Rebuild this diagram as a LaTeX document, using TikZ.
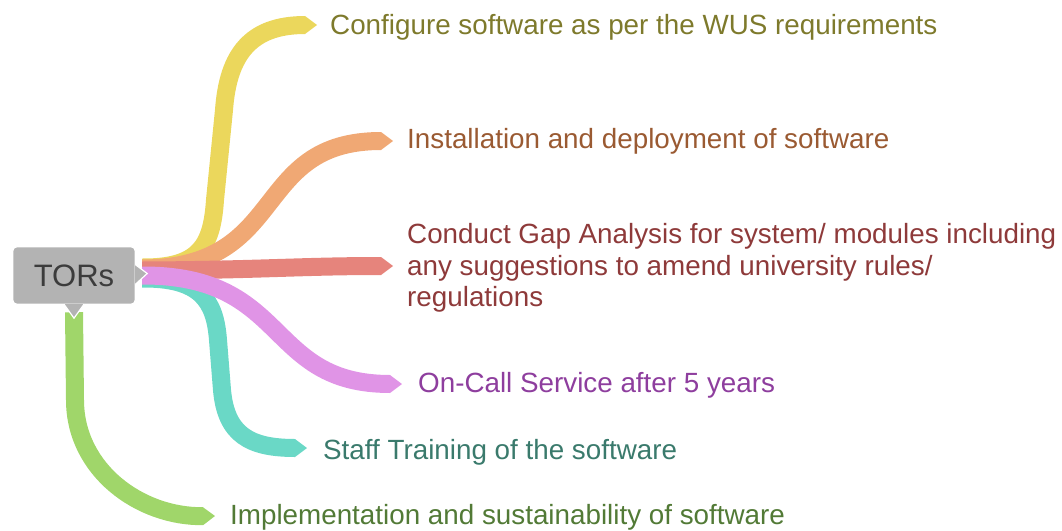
\documentclass[tikz,border=0pt]{standalone}
\usepackage{fontspec}
\setmainfont{Liberation Sans}
\usetikzlibrary{arrows.meta}

\definecolor{boxgray}{RGB}{179,179,179}
\definecolor{boxtext}{RGB}{60,60,60}
\definecolor{yellowrib}{RGB}{235,215,92}
\definecolor{orangerib}{RGB}{240,168,116}
\definecolor{redrib}{RGB}{230,132,124}
\definecolor{pinkrib}{RGB}{224,148,230}
\definecolor{tealrib}{RGB}{106,216,198}
\definecolor{greenrib}{RGB}{160,214,106}
\definecolor{cfgtext}{RGB}{126,122,44}
\definecolor{insttext}{RGB}{154,90,50}
\definecolor{gaptext}{RGB}{142,58,58}
\definecolor{calltext}{RGB}{142,62,158}
\definecolor{stafftext}{RGB}{58,122,108}
\definecolor{impltext}{RGB}{82,122,54}

\begin{document}
\begin{tikzpicture}[x=1pt,y=-1pt,
  ribbon/.style={line width=18pt,draw=#1,
    -{Triangle[length=12pt,width=18pt,line width=0pt]}},
  label/.style={inner sep=0pt,text=#1,font=\fontsize{27.8}{31.5}\selectfont}]
  \useasboundingbox (0,0) rectangle (1062,530);
  % the TORs box
  \node[minimum width=122pt,minimum height=57pt,inner sep=0pt] (tors) at (74,275.5) {};
  % branch labels
  \node[label=cfgtext,anchor=base west] (cfg) at (330,34)
    {Configure software as per the WUS requirements};
  \node[label=insttext,anchor=base west] (inst) at (407,148)
    {Installation and deployment of software};
  \node[label=gaptext,anchor=west,align=left] (gap) at (407,268)
    {Conduct Gap Analysis for system/ modules including\\
     any suggestions to amend university rules/\\
     regulations};
  \node[label=calltext,anchor=base west] (call) at (418,392)
    {On-Call Service after 5 years};
  \node[label=stafftext,anchor=base west] (staff) at (323,459)
    {Staff Training of the software};
  \node[label=impltext,anchor=base west] (impl) at (230,524)
    {Implementation and sustainability of software};
  % ends of the ribbons
  \coordinate (cfg tip) at ([shift={(-13pt,9pt)}]cfg.base west);
  \coordinate (inst tip) at ([shift={(-14pt,7pt)}]inst.base west);
  \coordinate (gap tip) at ([shift={(-14pt,2pt)}]gap.west);
  \coordinate (call tip) at ([shift={(-16pt,8pt)}]call.base west);
  \coordinate (staff tip) at ([shift={(-16pt,11pt)}]staff.base west);
  \coordinate (impl tip) at ([shift={(-15pt,8pt)}]impl.base west);
  % ribbons out of the box
  \draw[ribbon=yellowrib] ([shift={(7pt,8pt)}]tors.east)
    .. controls (200,268) and (212,245) .. (215,200) -- (224,110)
    .. controls (228,55) and (250,25) .. (cfg tip);
  \draw[ribbon=orangerib] ([shift={(7pt,7pt)}]tors.east)
    .. controls (290,268) and (250,141) .. (inst tip);
  \draw[ribbon=tealrib] ([shift={(7pt,-3pt)}]tors.east)
    .. controls (200,278) and (215,300) .. (218,340) -- (222,390)
    .. controls (226,435) and (250,448) .. (staff tip);
  \draw[ribbon=redrib] ([shift={(7pt,5pt)}]tors.east)
    .. controls (260,270) and (300,266) .. (gap tip);
  \draw[ribbon=pinkrib] ([shift={(7pt,0pt)}]tors.east)
    .. controls (290,275) and (265,384) .. (call tip);
  \draw[ribbon=greenrib] ([yshift=-8pt]tors.south) -- (75,400)
    .. controls (75,470) and (140,517) .. (impl tip);
  % box with its two pointers
  \filldraw[boxgray,draw=white,line width=1.2pt,rounded corners=4pt]
    (tors.south west) rectangle (tors.north east);
  \fill[boxgray] ([yshift=11pt]tors.east) -- ([shift={(12pt,2pt)}]tors.east)
    -- ([yshift=-9pt]tors.east) -- cycle;
  \draw[white,line width=1.2pt] ([yshift=11pt]tors.east)
    -- ([shift={(12pt,2pt)}]tors.east) -- ([yshift=-9pt]tors.east);
  \fill[boxgray] ([xshift=-10pt]tors.south) -- ([yshift=-14pt]tors.south)
    -- ([xshift=10pt]tors.south) -- cycle;
  \draw[white,line width=1.2pt] ([xshift=-10pt]tors.south)
    -- ([yshift=-14pt]tors.south) -- ([xshift=10pt]tors.south);
  \node[text=boxtext,font=\fontsize{31}{36}\selectfont] at (tors) {TORs};
\end{tikzpicture}
\end{document}
